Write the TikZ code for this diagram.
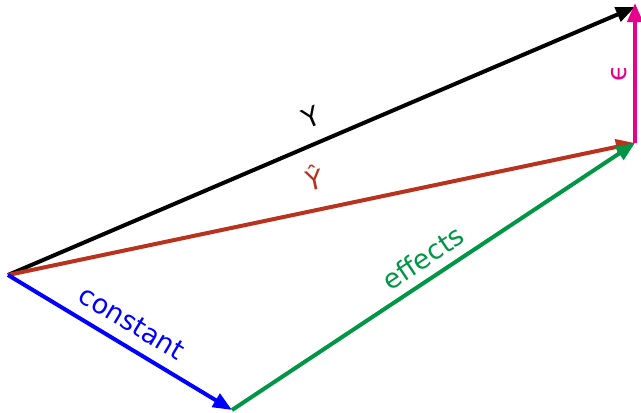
\documentclass[tikz,border=0pt]{standalone}
\usepackage{fontspec}
\setmainfont{DejaVu Sans}
\usetikzlibrary{arrows.meta}
\definecolor{cred}{RGB}{185,50,30}
\definecolor{cblue}{RGB}{0,0,255}
\definecolor{cgreen}{RGB}{0,150,70}
\definecolor{cmag}{RGB}{230,0,140}
\tikzset{
  vec/.style={line width=4pt,-{Triangle[length=19pt,width=15pt]}},
  lab/.style={font=\fontsize{27}{32}\selectfont, inner sep=0pt}
}
\begin{document}
\begin{tikzpicture}[x=1pt,y=-1pt]
\useasboundingbox (0,0) rectangle (641,413);
\coordinate (O) at (8,275);
\coordinate (C) at (232,410);
\coordinate (P) at (635,143);
\coordinate (T) at (635,7);
\coordinate (T2) at (635,3);
\draw[vec,black] (O) -- (T);
\draw[vec,cred] (O) -- (P);
\draw[vec,cblue] (O) -- (C);
\draw[vec,cgreen] (C) -- (P);
\draw[vec,cmag] (P) -- (T2);
\node[lab,black,rotate=23] (ly) at (311,117) {Y};
\node[lab,cred,rotate=12] (lyh) at (314,177) {Ŷ};
\node[lab,cgreen,rotate=33.6] (le) at (423,258) {effects};
\node[lab,cblue,rotate=-31] (lc) at (132,323) {constant};
\node[lab,cmag,rotate=90] (leps) at (619,73) {ϵ};
\end{tikzpicture}
\end{document}
